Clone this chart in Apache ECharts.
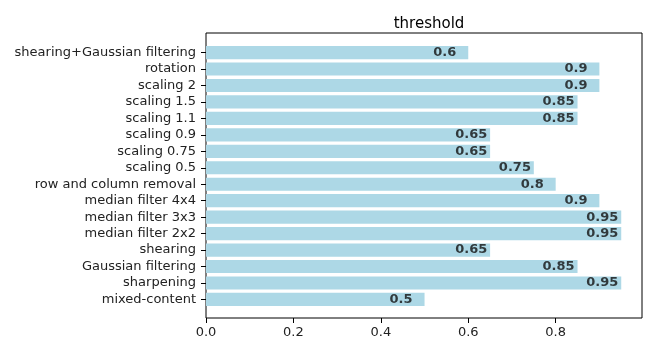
<!DOCTYPE html>
<html>
<head>
<meta charset="utf-8">
<script src="https://cdn.jsdelivr.net/npm/echarts@6/dist/echarts.min.js"></script>
<style>
  html, body { margin: 0; padding: 0; background: #fff; }
  #chart { width: 648px; height: 339px; }
</style>
</head>
<body>
<div id="chart"></div>
<script>
// Attack types, listed top to bottom
const categories = [
  'shearing+Gaussian filtering', 'rotation', 'scaling 2', 'scaling 1.5',
  'scaling 1.1', 'scaling 0.9', 'scaling 0.75', 'scaling 0.5',
  'row and column removal', 'median filter 4x4', 'median filter 3x3',
  'median filter 2x2', 'shearing', 'Gaussian filtering', 'sharpening',
  'mixed-content'
];
// Threshold per attack type
const thresholds = [
  0.6, 0.9, 0.9, 0.85, 0.85, 0.65, 0.65, 0.75,
  0.8, 0.9, 0.95, 0.95, 0.65, 0.85, 0.95, 0.5
];
// X axis tick values
const xTicks = [0.0, 0.2, 0.4, 0.6, 0.8];

const FONT = 'DejaVu Sans';
const xMax = 0.9975;          // data max plus a 5% margin
const labelShift = 0.08;      // value labels start this far left of the bar end

// Frame area and the inset band area that holds the bars (margin of 0.79 band on each side)
const frame = { left: 206, right: 6, top: 33, bottom: 20 };
const frameH = 339 - frame.top - frame.bottom;
const unit = frameH / (categories.length - 1 + 0.8 + 2 * 0.79);
const inset = (0.79 + 0.4 - 0.5) * unit;

const chart = echarts.init(document.getElementById('chart'), null, { renderer: 'canvas' });
chart.setOption({
  animation: false,
  backgroundColor: '#fff',
  title: {
    text: 'threshold',
    left: frame.left + (648 - frame.left - frame.right) / 2,
    textAlign: 'center',
    top: 12,
    textStyle: { fontFamily: FONT, fontSize: 15, fontWeight: 'normal', color: '#000' }
  },
  grid: [
    { left: frame.left, right: frame.right, top: frame.top, bottom: frame.bottom,
      show: true, borderColor: '#000', borderWidth: 1, backgroundColor: 'transparent' },
    { left: frame.left, right: frame.right, top: frame.top + inset, bottom: frame.bottom + inset }
  ],
  xAxis: [
    {
      gridIndex: 0, type: 'value', min: 0, max: xMax,
      axisLine: { show: false },
      splitLine: { show: false },
      axisTick: { show: true, length: 5, lineStyle: { color: '#000' }, customValues: xTicks },
      axisLabel: {
        show: true, margin: 8, fontFamily: FONT, fontSize: 13, color: '#222',
        customValues: xTicks, formatter: v => v.toFixed(1)
      }
    },
    {
      gridIndex: 1, type: 'value', min: 0, max: xMax, show: false
    }
  ],
  yAxis: [
    { gridIndex: 0, type: 'value', show: false },
    {
      gridIndex: 1, type: 'category', data: categories, inverse: true,
      axisLine: { show: false },
      axisTick: { show: true, alignWithLabel: true, interval: 0, length: 5, lineStyle: { color: '#000' } },
      axisLabel: { interval: 0, margin: 10, fontFamily: FONT, fontSize: 13, color: '#222' },
      splitLine: { show: false }
    }
  ],
  series: [
    {
      type: 'bar', xAxisIndex: 1, yAxisIndex: 1,
      data: thresholds,
      barCategoryGap: '20%',
      itemStyle: { color: '#ADD8E6' },
      silent: true
    },
    {
      // bold value labels, anchored a fixed distance left of each bar end
      type: 'scatter', xAxisIndex: 1, yAxisIndex: 1,
      data: thresholds.map((v, i) => [v - labelShift, i, v]),
      symbolSize: 0,
      silent: true,
      label: {
        show: true, position: 'right', distance: 0,
        formatter: p => String(p.data[2]),
        fontFamily: FONT, fontSize: 13, fontWeight: 'bold', color: '#111'
      }
    }
  ]
});
</script>
</body>
</html>
